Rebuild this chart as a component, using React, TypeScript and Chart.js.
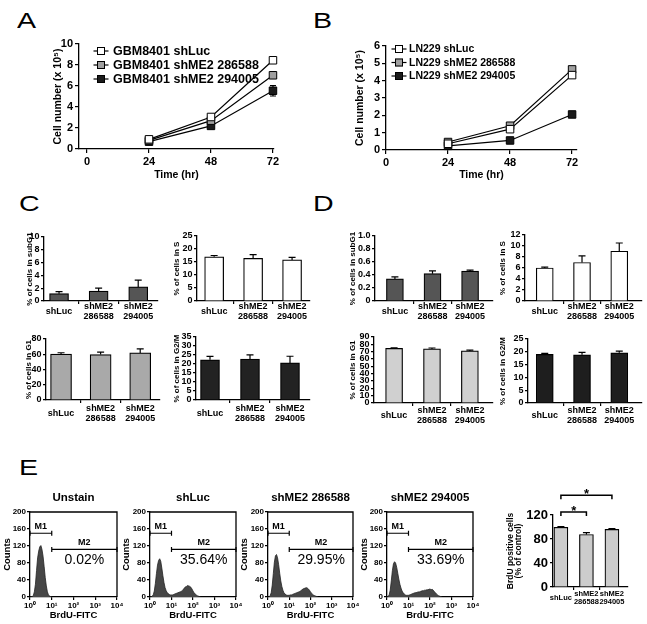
import React, { useEffect, useRef } from "react";
import { Chart, registerables } from "chart.js";

Chart.register(...registerables);

const FONT = "'Liberation Sans', Arial, Helvetica, sans-serif";
Chart.defaults.font.family = FONT;
Chart.defaults.color = "#000";

/* ---------------- A : GBM8401 growth ---------------- */
const hours = [24, 48, 72];
const hourTicks = [0, 24, 48, 72];
const gbmLabels = ["GBM8401 shLuc", "GBM8401 shME2 286588", "GBM8401 shME2 294005"];
const gbmShLuc = [0.92, 3.05, 8.45];
const gbmSh286588 = [0.82, 2.7, 7.02];
const gbmSh294005 = [0.7, 2.2, 5.55];
const gbmErrShLuc = [0.05, 0.12, 0.12];
const gbmErr286588 = [0.05, 0.12, 0.18];
const gbmErr294005 = [0.06, 0.1, 0.5];

/* ---------------- B : LN229 growth ---------------- */
const lnLabels = ["LN229 shLuc", "LN229 shME2 286588", "LN229 shME2 294005"];
const lnShLuc = [0.36, 1.2, 4.32];
const lnSh286588 = [0.46, 1.4, 4.65];
const lnSh294005 = [0.24, 0.55, 2.05];
const lnErrShLuc = [0.03, 0.06, 0.1];
const lnErr286588 = [0.03, 0.06, 0.1];
const lnErr294005 = [0.02, 0.04, 0.06];

const seriesColors = ["#ffffff", "#a0a0a0", "#1a1a1a"];

/* ---------------- C / D : cell cycle ---------------- */
const cycleCats: any[] = ["shLuc", ["shME2", "286588"], ["shME2", "294005"]];
const catTicks = [0, 0.5, 1, 1.5, 2];

const gbmSubG1 = [1.15, 1.55, 2.2];
const gbmSubG1Err = [0.3, 0.45, 1.05];
const gbmS = [17.0, 16.4, 15.8];
const gbmSErr = [0.5, 1.4, 1.0];
const gbmG1 = [60.2, 59.6, 61.8];
const gbmG1Err = [1.8, 3.2, 5.2];
const gbmG2M = [22.3, 22.7, 20.6];
const gbmG2MErr = [1.9, 2.4, 3.7];

const lnSubG1 = [0.34, 0.42, 0.46];
const lnSubG1Err = [0.03, 0.045, 0.015];
const lnS = [6.0, 7.0, 9.05];
const lnSErr = [0.15, 1.2, 1.5];
const lnG1 = [74.5, 73.8, 71.0];
const lnG1Err = [0.6, 1.2, 1.0];
const lnG2M = [19.0, 18.8, 19.6];
const lnG2MErr = [0.4, 1.0, 0.7];

/* ---------------- E : BrdU ---------------- */
const histTitles = ["Unstain", "shLuc", "shME2 286588", "shME2 294005"];
const m2Percent = ["0.02%", "35.64%", "29.95%", "33.69%"];
const decadeTicks = [0, 1, 2, 3, 4];
const decadeLabels = ["10\u2070", "10\u00B9", "10\u00B2", "10\u00B3", "10\u2074"];
const histBins = [
  0, 0.05, 0.1, 0.15, 0.2, 0.25, 0.3, 0.35, 0.4, 0.45, 0.5, 0.55, 0.6, 0.65, 0.7, 0.75, 0.8, 0.85, 0.9, 0.95,
  1, 1.05, 1.1, 1.15, 1.2, 1.25, 1.3, 1.35, 1.4, 1.45, 1.5, 1.55, 1.6, 1.65, 1.7, 1.75, 1.8, 1.85, 1.9, 1.95,
  2, 2.05, 2.1, 2.15, 2.2, 2.25, 2.3, 2.35, 2.4, 2.45, 2.5, 2.55, 2.6,
];
const histUnstain = [0, 0, 1, 3, 12, 30, 62, 92, 108, 118, 121, 112, 96, 72, 46, 26, 12, 5, 2, 1, 0];
const histShLuc = [
  0, 0, 2, 5, 14, 32, 55, 75, 86, 90, 84, 68, 50, 34, 22, 15, 10, 8, 6, 5, 5, 5, 6, 7, 8, 9, 10, 11, 12, 13,
  15, 18, 21, 24, 25, 27, 26, 25, 23, 19, 14, 10, 7, 5, 3, 2, 1, 0,
];
const hist286588 = [
  0, 0, 3, 10, 28, 55, 82, 97, 100, 92, 76, 56, 38, 25, 16, 10, 7, 5, 4, 4, 4, 5, 5, 6, 7, 8, 9, 10, 11, 12,
  13, 15, 17, 19, 20, 21, 22, 21, 19, 16, 12, 9, 6, 4, 3, 2, 1, 0,
];
const hist294005 = [
  0, 1, 5, 16, 38, 62, 78, 83, 80, 70, 56, 42, 30, 21, 14, 10, 7, 5, 4, 4, 4, 5, 6, 7, 8, 9, 10, 10, 11, 12,
  12, 13, 14, 15, 15, 16, 16, 17, 17, 18, 19, 17, 18, 16, 13, 10, 7, 5, 3, 2, 1, 0,
];
const histSeries = [histUnstain, histShLuc, hist286588, hist294005];
const gateM1 = { name: "M1", from: 0, to: 1, level: 150 };
const gateM2 = { name: "M2", from: 1, to: 4, level: 112 };

const brduCats: any[] = ["shLuc", ["shME2", "286588"], ["shME2", "294005"]];
const brduValues = [99.5, 87.5, 96.0];
const brduErr = [1.0, 3.0, 1.2];
const sigPairs = [[0, 2], [0, 1]];
const sigLevels = [153, 125];
const sigMarks = ["*", "*"];

/* ---------------- helpers ---------------- */
type Area = { l: number; t: number; r: number; b: number };
type Pad = { left: number; top: number; right: number; bottom: number };

const BORDER = { color: "#000", width: 1.3 };

function bold(size: number, lineHeight = 1.2) {
  return { size, weight: "bold" as const, lineHeight };
}

function baseOptions(pad: Pad) {
  return {
    responsive: false,
    animation: false,
    events: [],
    layout: { padding: { left: 0, top: pad.top, right: pad.right, bottom: 0 } },
    plugins: { legend: { display: false }, tooltip: { enabled: false }, title: { display: false } },
  };
}

function drawErr(chart: any, mode: string) {
  const ctx = chart.ctx;
  chart.data.datasets.forEach((ds: any, di: number) => {
    if (!ds.errors || ds.errMode !== mode) return;
    const meta = chart.getDatasetMeta(di);
    const ys = chart.scales[meta.yAxisID];
    ctx.save();
    ctx.strokeStyle = "#000";
    ctx.lineWidth = 1.2;
    meta.data.forEach((el: any, i: number) => {
      const d = ds.data[i];
      const v = typeof d === "object" ? d.y : d;
      const e = ds.errors[i];
      if (!e) return;
      const x = el.x;
      const yTop = ys.getPixelForValue(v + e);
      const yBot = ys.getPixelForValue(mode === "both" ? v - e : v);
      const cw = ds.errCap || 3;
      ctx.beginPath();
      ctx.moveTo(x, yTop);
      ctx.lineTo(x, yBot);
      ctx.moveTo(x - cw, yTop);
      ctx.lineTo(x + cw, yTop);
      if (mode === "both") {
        ctx.moveTo(x - cw, yBot);
        ctx.lineTo(x + cw, yBot);
      }
      ctx.stroke();
    });
    ctx.restore();
  });
}

const errorBars = {
  id: "errBars",
  beforeDatasetsDraw(chart: any) {
    drawErr(chart, "both");
  },
  afterDatasetsDraw(chart: any) {
    drawErr(chart, "up");
  },
};
Chart.register(errorBars as any);

function lineLegend(pos: { x: number; y: number; dy: number; gap: number; size: number }) {
  return {
    id: "lineLegend",
    afterDraw(chart: any) {
      const ctx = chart.ctx;
      const a = chart.chartArea;
      chart.data.datasets.forEach((ds: any, i: number) => {
        const cx = a.left + pos.x;
        const cy = a.top + pos.y + i * pos.dy;
        ctx.save();
        ctx.strokeStyle = "#000";
        ctx.lineWidth = 1.2;
        ctx.beginPath();
        ctx.moveTo(cx - 7.5, cy);
        ctx.lineTo(cx + 7.5, cy);
        ctx.stroke();
        ctx.fillStyle = ds.pointBackgroundColor;
        ctx.fillRect(cx - 4, cy - 4, 8, 8);
        ctx.lineWidth = 1;
        ctx.strokeRect(cx - 3.5, cy - 3.5, 7, 7);
        ctx.fillStyle = "#000";
        ctx.font = `bold ${pos.size}px ${FONT}`;
        ctx.textAlign = "left";
        ctx.textBaseline = "middle";
        ctx.fillText(ds.label, cx + pos.gap, cy + 0.5);
        ctx.restore();
      });
    },
  };
}

function lineConfig(
  pad: Pad,
  o: {
    labels: string[];
    series: number[][];
    errs: number[][];
    xMin: number;
    xMax: number;
    yMax: number;
    yStep: number;
    legend: { x: number; y: number; dy: number; gap: number; size: number };
  }
) {
  return {
    type: "line",
    data: {
      datasets: o.series.map((s, i) => ({
        label: o.labels[i],
        data: hours.map((h, j) => ({ x: h, y: s[j] })),
        borderColor: "#000",
        borderWidth: 1.2,
        backgroundColor: seriesColors[i],
        pointStyle: "rect",
        pointRadius: 5.3,
        pointBorderColor: "#000",
        pointBorderWidth: 1,
        pointBackgroundColor: seriesColors[i],
        tension: 0,
        clip: false,
        errors: o.errs[i],
        errMode: "both",
        errCap: 3,
      })),
    },
    options: {
      ...baseOptions(pad),
      scales: {
        x: {
          type: "linear",
          min: o.xMin,
          max: o.xMax,
          afterBuildTicks: (s: any) => {
            s.ticks = hourTicks.map((v) => ({ value: v }));
          },
          ticks: { font: bold(11), padding: 2, autoSkip: false, maxRotation: 0, color: "#000" },
          grid: { drawOnChartArea: false, tickLength: 4, color: "#000", lineWidth: 1.2 },
          border: BORDER,
          title: { display: true, text: "Time (hr)", font: bold(10.5), padding: 0, color: "#000" },
          afterFit: (s: any) => {
            s.height = pad.bottom;
          },
        },
        y: {
          type: "linear",
          min: 0,
          max: o.yMax,
          ticks: { stepSize: o.yStep, font: bold(11), padding: 2, autoSkip: false, color: "#000" },
          grid: { drawOnChartArea: false, tickLength: 4, color: "#000", lineWidth: 1.2 },
          border: BORDER,
          title: { display: true, text: "Cell number (x 10\u2075)", font: bold(10.5), padding: 0, color: "#000" },
          afterFit: (s: any) => {
            s.width = pad.left;
          },
        },
      },
    },
    plugins: [lineLegend(o.legend)],
  };
}

type BarOpts = {
  values: number[];
  errs: number[];
  cats: any[];
  color: string;
  xMin: number;
  xMax: number;
  yMax: number;
  yStep: number;
  title: string | string[];
  barW: number;
  tickSize: number;
  catSize: number;
  titleSize: number;
  titleLH?: number;
  tickPad?: number;
  catPad?: number;
};

function barConfig(pad: Pad, o: BarOpts, extra: any[] = []) {
  return {
    type: "bar",
    data: {
      datasets: [
        {
          data: o.values.map((v, i) => ({ x: i, y: v })),
          backgroundColor: o.color,
          borderColor: "#000",
          borderWidth: 1.2,
          barThickness: o.barW,
          errors: o.errs,
          errMode: "up",
          errCap: 3.5,
        },
      ],
    },
    options: {
      ...baseOptions(pad),
      scales: {
        x: {
          type: "linear",
          offset: false,
          min: o.xMin,
          max: o.xMax,
          afterBuildTicks: (s: any) => {
            s.ticks = catTicks.map((v) => ({ value: v }));
          },
          ticks: {
            callback: (v: number) => (Number.isInteger(v) ? o.cats[v] : ""),
            font: bold(o.catSize, 1.05),
            padding: o.catPad ?? 3,
            autoSkip: false,
            maxRotation: 0,
            minRotation: 0,
            crossAlign: "center",
            color: "#000",
          },
          grid: {
            offset: false,
            drawOnChartArea: false,
            tickLength: 3,
            lineWidth: 1.2,
            color: (c: any) => (c.tick && Number.isInteger(c.tick.value) ? "rgba(0,0,0,0)" : "#000"),
          },
          border: BORDER,
          afterFit: (s: any) => {
            s.height = pad.bottom;
          },
        },
        y: {
          type: "linear",
          min: 0,
          max: o.yMax,
          ticks: { stepSize: o.yStep, font: bold(o.tickSize), padding: o.tickPad ?? 1.5, autoSkip: false, color: "#000" },
          grid: { drawOnChartArea: false, tickLength: 3, color: "#000", lineWidth: 1.2 },
          border: BORDER,
          title: {
            display: true,
            text: o.title,
            font: bold(o.titleSize, o.titleLH ?? 1.2),
            padding: 0,
            color: "#000",
          },
          afterFit: (s: any) => {
            s.width = pad.left;
          },
        },
      },
    },
    plugins: extra,
  };
}

function histOverlay(idx: number) {
  return {
    id: "histOverlay",
    afterDraw(chart: any) {
      const ctx = chart.ctx;
      const a = chart.chartArea;
      const xs = chart.scales.x;
      const ys = chart.scales.y;
      ctx.save();
      ctx.strokeStyle = "#000";
      ctx.lineWidth = 1.3;
      ctx.beginPath();
      ctx.moveTo(a.left, a.top);
      ctx.lineTo(a.right, a.top);
      ctx.lineTo(a.right, a.bottom);
      ctx.stroke();
      ctx.fillStyle = "#000";
      ctx.textAlign = "center";
      ctx.textBaseline = "middle";
      [gateM1, gateM2].forEach((g) => {
        const x1 = xs.getPixelForValue(g.from);
        const x2 = xs.getPixelForValue(g.to);
        const y = ys.getPixelForValue(g.level);
        ctx.lineWidth = 1.2;
        ctx.beginPath();
        ctx.moveTo(x1, y);
        ctx.lineTo(x2, y);
        ctx.moveTo(x1, y - 2.5);
        ctx.lineTo(x1, y + 2.5);
        ctx.moveTo(x2, y - 2.5);
        ctx.lineTo(x2, y + 2.5);
        ctx.stroke();
        ctx.font = `bold 9px ${FONT}`;
        ctx.fillText(g.name, (x1 + x2) / 2, y - 6.5);
      });
      const pm = xs.getPixelForValue((gateM2.from + gateM2.to) / 2);
      ctx.font = `14px ${FONT}`;
      ctx.fillText(m2Percent[idx], pm, ys.getPixelForValue(gateM2.level) + 11);
      ctx.font = `bold 11.5px ${FONT}`;
      ctx.fillText(histTitles[idx], (a.left + a.right) / 2, a.top - 14);
      ctx.restore();
    },
  };
}

function histConfig(pad: Pad, idx: number) {
  const counts = histSeries[idx];
  return {
    type: "line",
    data: {
      datasets: [
        {
          data: counts.map((c, i) => ({ x: histBins[i], y: c })),
          fill: "origin",
          backgroundColor: "#464646",
          borderColor: "#222",
          borderWidth: 0.8,
          pointRadius: 0,
          tension: 0,
        },
      ],
    },
    options: {
      ...baseOptions(pad),
      scales: {
        x: {
          type: "linear",
          min: 0,
          max: 4,
          afterBuildTicks: (s: any) => {
            s.ticks = decadeTicks.map((v) => ({ value: v }));
          },
          ticks: {
            callback: (v: number) => decadeLabels[v],
            font: bold(8),
            padding: 1,
            autoSkip: false,
            maxRotation: 0,
            color: "#000",
          },
          grid: { drawOnChartArea: false, tickLength: 3, color: "#000", lineWidth: 1.2 },
          border: BORDER,
          title: { display: true, text: "BrdU-FITC", font: bold(9.5), padding: 0, color: "#000" },
          afterFit: (s: any) => {
            s.height = pad.bottom;
          },
        },
        y: {
          type: "linear",
          min: 0,
          max: 200,
          ticks: { stepSize: 40, font: bold(8), padding: 1, autoSkip: false, color: "#000" },
          grid: { drawOnChartArea: false, tickLength: 3, color: "#000", lineWidth: 1.2 },
          border: BORDER,
          title: { display: true, text: "Counts", font: bold(9.5), padding: 0, color: "#000" },
          afterFit: (s: any) => {
            s.width = pad.left;
          },
        },
      },
    },
    plugins: [histOverlay(idx)],
  };
}

function sigPlugin() {
  return {
    id: "sig",
    afterDraw(chart: any) {
      const ctx = chart.ctx;
      const xs = chart.scales.x;
      const ys = chart.scales.y;
      sigPairs.forEach(([a, b], k) => {
        const x1 = xs.getPixelForValue(a);
        const x2 = xs.getPixelForValue(b);
        const y = ys.getPixelForValue(sigLevels[k]);
        ctx.save();
        ctx.strokeStyle = "#000";
        ctx.lineWidth = 1.5;
        ctx.beginPath();
        ctx.moveTo(x1, y + 4);
        ctx.lineTo(x1, y);
        ctx.lineTo(x2, y);
        ctx.lineTo(x2, y + 4);
        ctx.stroke();
        ctx.fillStyle = "#000";
        ctx.font = `bold 13px ${FONT}`;
        ctx.textAlign = "center";
        ctx.textBaseline = "middle";
        ctx.fillText(sigMarks[k], (x1 + x2) / 2, y - 1);
        ctx.restore();
      });
    },
  };
}

function ChartBox({ area, pad, build }: { area: Area; pad: Pad; build: (p: Pad) => any }) {
  const ref = useRef<HTMLCanvasElement | null>(null);
  const left = Math.round(area.l - pad.left);
  const top = Math.round(area.t - pad.top);
  const width = Math.round(area.r - area.l + pad.left + pad.right);
  const height = Math.round(area.b - area.t + pad.top + pad.bottom);
  useEffect(() => {
    if (!ref.current) return;
    const chart = new Chart(ref.current, build(pad));
    return () => chart.destroy();
  }, []);
  return (
    <canvas
      ref={ref}
      width={width}
      height={height}
      style={{ position: "absolute", left, top, width, height, display: "block" }}
    />
  );
}

function Letter({ ch, x, y }: { ch: string; x: number; y: number }) {
  return (
    <div
      style={{
        position: "absolute",
        left: x,
        top: y - 3,
        fontSize: 22,
        lineHeight: "22px",
        fontFamily: FONT,
        color: "#000",
        transform: "scaleX(1.3)",
        transformOrigin: "left top",
      }}
    >
      {ch}
    </div>
  );
}

export default function App() {
  const cBar = { cats: cycleCats, tickSize: 9, catSize: 9, titleSize: 8 };
  return (
    <div
      style={{
        position: "fixed",
        left: 0,
        top: 0,
        width: 647,
        height: 624,
        background: "#fff",
        overflow: "hidden",
        fontFamily: FONT,
      }}
    >
      <Letter ch="A" x={17} y={13} />
      <Letter ch="B" x={313} y={13} />
      <Letter ch="C" x={19} y={196} />
      <Letter ch="D" x={313} y={196} />
      <Letter ch="E" x={19} y={460} />

      <ChartBox
        area={{ l: 79, t: 44, r: 274, b: 149 }}
        pad={{ left: 27, top: 12, right: 12, bottom: 32 }}
        build={(p) =>
          lineConfig(p, {
            labels: gbmLabels,
            series: [gbmShLuc, gbmSh286588, gbmSh294005],
            errs: [gbmErrShLuc, gbmErr286588, gbmErr294005],
            xMin: -3.1,
            xMax: 72.4,
            yMax: 10,
            yStep: 2,
            legend: { x: 22, y: 7, dy: 14, gap: 12, size: 12.5 },
          })
        }
      />
      <ChartBox
        area={{ l: 386, t: 46, r: 577, b: 150 }}
        pad={{ left: 32, top: 12, right: 12, bottom: 31 }}
        build={(p) =>
          lineConfig(p, {
            labels: lnLabels,
            series: [lnShLuc, lnSh286588, lnSh294005],
            errs: [lnErrShLuc, lnErr286588, lnErr294005],
            xMin: 0,
            xMax: 73.9,
            yMax: 6,
            yStep: 1,
            legend: { x: 13, y: 3, dy: 13.5, gap: 10, size: 10.5 },
          })
        }
      />

      {/* C */}
      <ChartBox
        area={{ l: 44, t: 237, r: 158, b: 301 }}
        pad={{ left: 19, top: 10, right: 6, bottom: 28 }}
        build={(p) =>
          barConfig(p, { ...cBar, values: gbmSubG1, errs: gbmSubG1Err, color: "#555555", xMin: -0.38, xMax: 2.5, yMax: 10, yStep: 2, title: "% of cells in subG1", barW: 19, catPad: 3 })
        }
      />
      <ChartBox
        area={{ l: 197, t: 236, r: 310, b: 301 }}
        pad={{ left: 25, top: 10, right: 6, bottom: 28 }}
        build={(p) =>
          barConfig(p, { ...cBar, values: gbmS, errs: gbmSErr, color: "#ffffff", xMin: -0.44, xMax: 2.46, yMax: 25, yStep: 5, title: "% of cells in S", barW: 19, catPad: 3 })
        }
      />
      <ChartBox
        area={{ l: 46, t: 339, r: 160, b: 400 }}
        pad={{ left: 22, top: 10, right: 6, bottom: 31 }}
        build={(p) =>
          barConfig(p, { ...cBar, values: gbmG1, errs: gbmG1Err, color: "#a9a9a9", xMin: -0.38, xMax: 2.5, yMax: 80, yStep: 20, title: "% of cells in G1", barW: 21, catPad: 6 })
        }
      />
      <ChartBox
        area={{ l: 196, t: 337, r: 310, b: 400 }}
        pad={{ left: 24, top: 10, right: 6, bottom: 31 }}
        build={(p) =>
          barConfig(p, { ...cBar, values: gbmG2M, errs: gbmG2MErr, color: "#222222", xMin: -0.35, xMax: 2.5, yMax: 35, yStep: 5, title: "% of cells in G2/M", barW: 19, catPad: 6 })
        }
      />

      {/* D */}
      <ChartBox
        area={{ l: 375, t: 236, r: 493, b: 301 }}
        pad={{ left: 27, top: 10, right: 6, bottom: 28 }}
        build={(p) =>
          barConfig(p, { ...cBar, values: lnSubG1, errs: lnSubG1Err, color: "#555555", xMin: -0.53, xMax: 2.61, yMax: 1, yStep: 0.2, title: "% of cells in subG1", barW: 17, catPad: 3 })
        }
      />
      <ChartBox
        area={{ l: 525, t: 235, r: 642, b: 301 }}
        pad={{ left: 27, top: 10, right: 4, bottom: 28 }}
        build={(p) =>
          barConfig(p, { ...cBar, values: lnS, errs: lnSErr, color: "#ffffff", xMin: -0.53, xMax: 2.61, yMax: 12, yStep: 2, title: "% of cells in S", barW: 17, catPad: 3 })
        }
      />
      <ChartBox
        area={{ l: 374, t: 337, r: 493, b: 403 }}
        pad={{ left: 26, top: 10, right: 6, bottom: 29 }}
        build={(p) =>
          barConfig(p, { ...cBar, values: lnG1, errs: lnG1Err, color: "#d0d0d0", xMin: -0.53, xMax: 2.61, yMax: 90, yStep: 10, title: "% of cells in G1", barW: 17, catPad: 5 })
        }
      />
      <ChartBox
        area={{ l: 528, t: 339, r: 642, b: 403 }}
        pad={{ left: 30, top: 10, right: 4, bottom: 29 }}
        build={(p) =>
          barConfig(p, { ...cBar, values: lnG2M, errs: lnG2MErr, color: "#1e1e1e", xMin: -0.45, xMax: 2.61, yMax: 25, yStep: 5, title: "% of cells in G2/M", barW: 17, catPad: 5 })
        }
      />

      {/* E histograms */}
      <ChartBox area={{ l: 30, t: 512, r: 117, b: 597 }} pad={{ left: 28, top: 24, right: 10, bottom: 24 }} build={(p) => histConfig(p, 0)} />
      <ChartBox area={{ l: 150, t: 512, r: 236, b: 597 }} pad={{ left: 29, top: 24, right: 10, bottom: 24 }} build={(p) => histConfig(p, 1)} />
      <ChartBox area={{ l: 268, t: 512, r: 353, b: 597 }} pad={{ left: 29, top: 24, right: 10, bottom: 24 }} build={(p) => histConfig(p, 2)} />
      <ChartBox area={{ l: 387, t: 512, r: 473, b: 597 }} pad={{ left: 28, top: 24, right: 10, bottom: 24 }} build={(p) => histConfig(p, 3)} />

      {/* E bar */}
      <ChartBox
        area={{ l: 553, t: 515, r: 628, b: 587 }}
        pad={{ left: 47, top: 32, right: 10, bottom: 28 }}
        build={(p) =>
          barConfig(
            p,
            {
              values: brduValues,
              errs: brduErr,
              cats: brduCats,
              color: "#cccccc",
              xMin: -0.31,
              xMax: 2.63,
              yMax: 120,
              yStep: 40,
              title: ["BrdU positive cells", "(% of control)"],
              barW: 14,
              tickSize: 13,
              catSize: 7.5,
              titleSize: 8.5,
              titleLH: 1,
              tickPad: 2,
              catPad: 4,
            },
            [sigPlugin()]
          )
        }
      />
    </div>
  );
}
